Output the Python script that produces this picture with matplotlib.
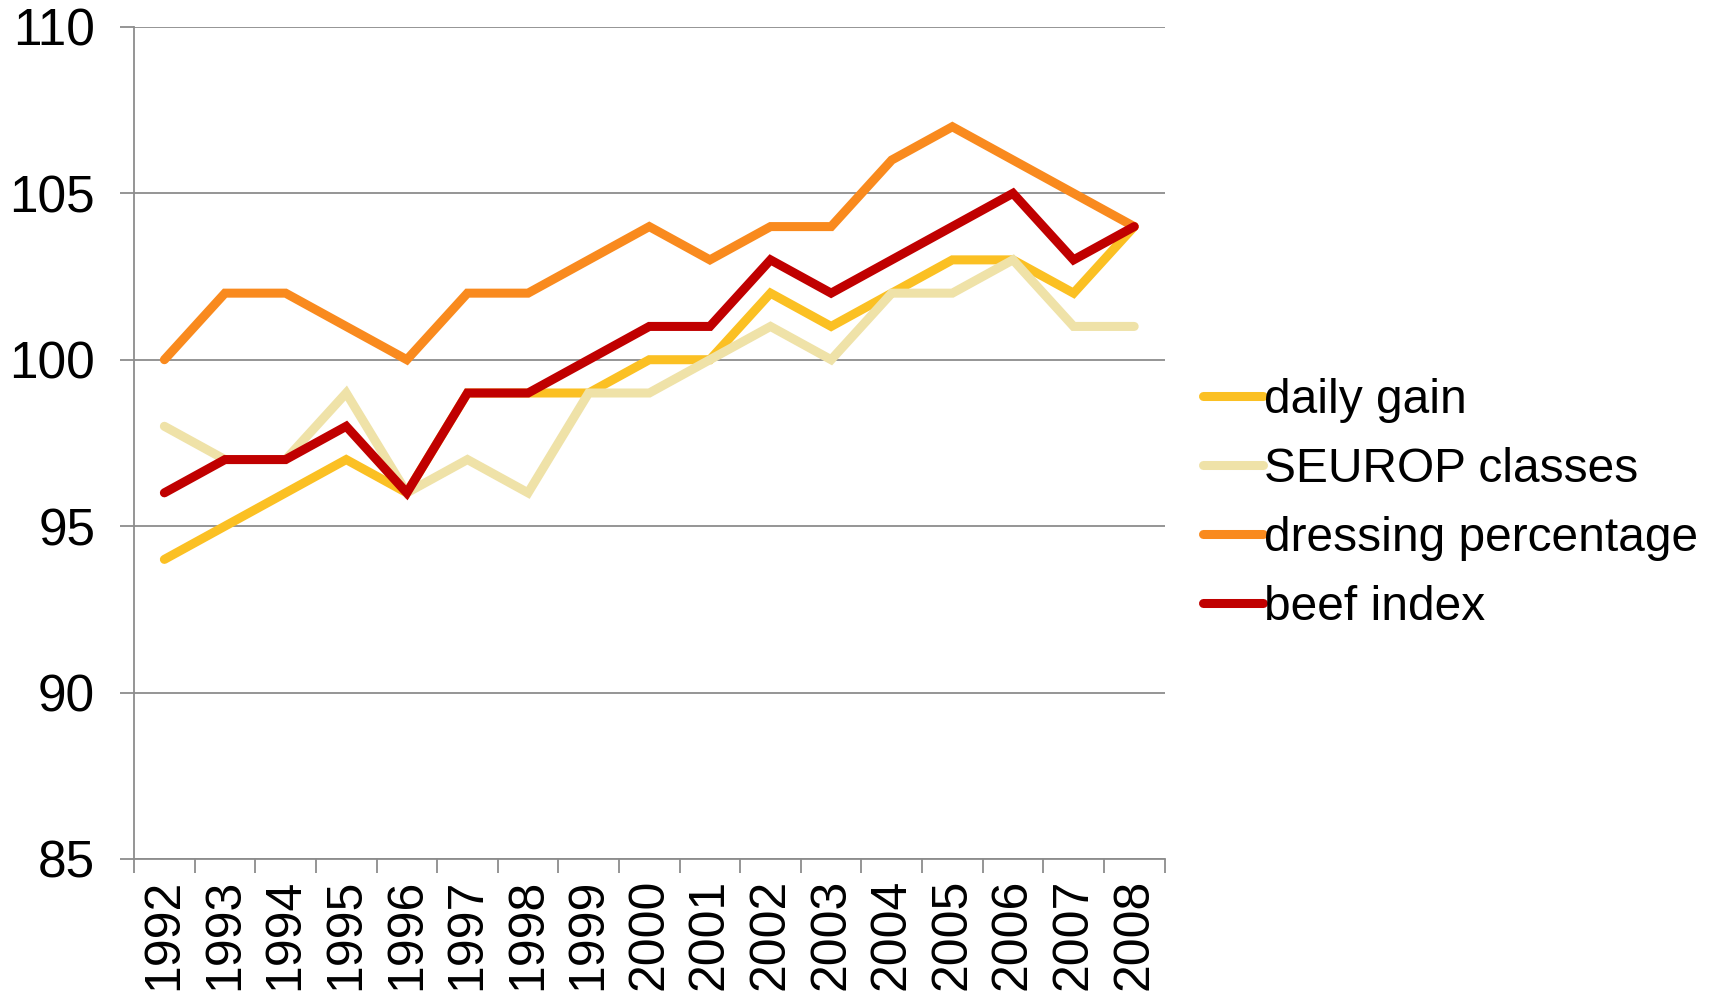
import matplotlib
matplotlib.use("Agg")
import matplotlib.pyplot as plt
from matplotlib.ticker import FixedLocator

plt.rcParams['font.family'] = ['Liberation Sans', 'DejaVu Sans']

years = ["1992", "1993", "1994", "1995", "1996", "1997", "1998", "1999", "2000",
         "2001", "2002", "2003", "2004", "2005", "2006", "2007", "2008"]
daily_gain = [94, 95, 96, 97, 96, 99, 99, 99, 100, 100, 102, 101, 102, 103, 103, 102, 104]
seurop = [98, 97, 97, 99, 96, 97, 96, 99, 99, 100, 101, 100, 102, 102, 103, 101, 101]
dressing = [100, 102, 102, 101, 100, 102, 102, 103, 104, 103, 104, 104, 106, 107, 106, 105, 104]
beef_index = [96, 97, 97, 98, 96, 99, 99, 100, 101, 101, 103, 102, 103, 104, 105, 103, 104]

series = [
    ("daily gain", daily_gain, "#FBC023"),
    ("SEUROP classes", seurop, "#EFE2A8"),
    ("dressing percentage", dressing, "#F98A1E"),
    ("beef index", beef_index, "#C00000"),
]

fig = plt.figure(figsize=(17.10, 9.96), dpi=100)
ax = fig.add_axes([0.0784, 0.1376, 0.6026, 0.8354])

x = list(range(len(years)))
for name, vals, col in series:
    ax.plot(x, vals, color=col, lw=6.5, label=name,
            solid_capstyle='round', solid_joinstyle='miter')

grid_c = "#8C8C8C"
ax.set_ylim(85, 110)
ax.set_yticks([85, 90, 95, 100, 105, 110])
ax.set_xlim(-0.5, len(years) - 0.5)
ax.set_xticks(x)
ax.set_xticklabels(years, rotation=90)
ax.xaxis.set_minor_locator(FixedLocator([i - 0.5 for i in range(len(years) + 1)]))

ax.yaxis.grid(True, color=grid_c, lw=1.3)
ax.set_axisbelow(True)
for s in ["top", "right"]:
    ax.spines[s].set_visible(False)
for s in ["left", "bottom"]:
    ax.spines[s].set_color(grid_c)
    ax.spines[s].set_linewidth(1.3)

ax.tick_params(axis='y', which='major', length=10, width=1.3, color=grid_c,
               labelsize=37, pad=18)
ax.tick_params(axis='x', which='major', length=0, labelsize=36, pad=14)
ax.tick_params(axis='x', which='minor', length=10, width=1.3, color=grid_c)

leg = fig.legend(loc='center left', bbox_to_anchor=(0.7035, 0.494), frameon=False,
                 fontsize=34.5, handlelength=1.25, handletextpad=0.03,
                 labelspacing=0.5, borderpad=0, borderaxespad=0)

fig.savefig("out.png", dpi=100)
